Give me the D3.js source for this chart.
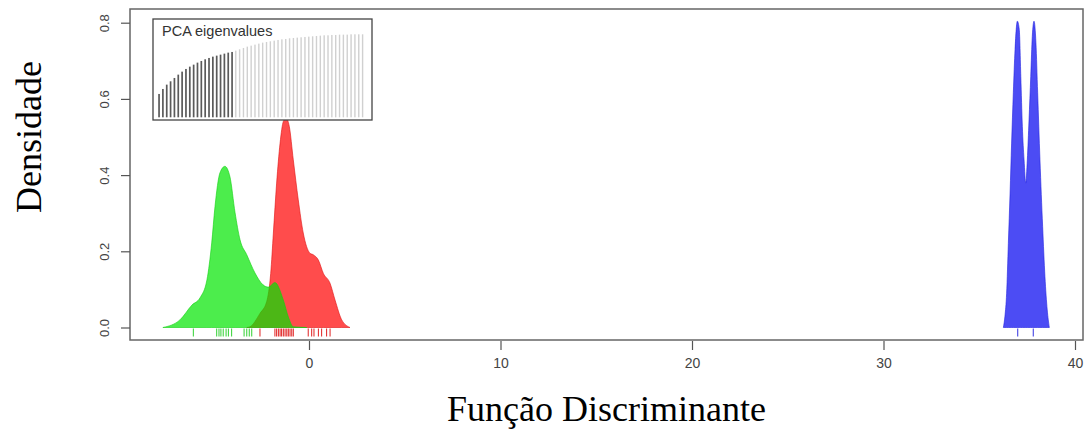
<!DOCTYPE html>
<html>
<head>
<meta charset="utf-8">
<script src="https://cdn.jsdelivr.net/npm/d3@7"></script>
<style>
  body { margin: 0; background: #fff; }
  svg { display: block; }
</style>
</head>
<body>
<svg class="dapc"></svg>
<script>
// density curves: [discriminant value, density]
const redDensity = [
  [-3.25, 0], [-3.08, 0.002], [-2.56, 0.037], [-2.21, 0.068], [-2.0, 0.142],
  [-1.86, 0.248], [-1.69, 0.379], [-1.51, 0.484], [-1.34, 0.541], [-1.2, 0.55],
  [-1.03, 0.528], [-0.82, 0.44], [-0.56, 0.335], [-0.3, 0.248], [0.05, 0.195],
  [0.22, 0.191], [0.49, 0.177], [0.75, 0.142], [1.1, 0.116], [1.36, 0.072],
  [1.71, 0.02], [2.14, 0]
]
const greenDensity = [
  [-7.63, 0], [-6.74, 0.02], [-6.11, 0.059], [-5.69, 0.078], [-5.33, 0.125],
  [-5.08, 0.222], [-4.91, 0.317], [-4.65, 0.406], [-4.39, 0.423], [-4.13, 0.396],
  [-3.86, 0.301], [-3.6, 0.23], [-3.25, 0.191], [-2.82, 0.143], [-2.4, 0.112],
  [-2.12, 0.106], [-1.78, 0.118], [-1.34, 0.072], [-1.08, 0.028], [-0.82, 0.002],
  [-0.12, 0]
]
const blueDensity = [
  [36.26, 0], [36.34, 0.029], [36.43, 0.09], [36.52, 0.221], [36.61, 0.353],
  [36.69, 0.484], [36.78, 0.616], [36.87, 0.73], [36.99, 0.804], [37.09, 0.782],
  [37.17, 0.659], [37.25, 0.528], [37.34, 0.44], [37.43, 0.379], [37.51, 0.44],
  [37.6, 0.545], [37.69, 0.659], [37.77, 0.764], [37.86, 0.804], [37.96, 0.747],
  [38.05, 0.616], [38.17, 0.44], [38.31, 0.265], [38.43, 0.134], [38.55, 0.046],
  [38.66, 0]
]

// individual positions (rug)
const greenRug = [-6.04, -4.82, -4.7, -4.6, -4.48, -4.33, -4.21, -4.04, -3.39, -3.25, -3.12, -2.99]
const redRug = [-2.56, -1.78, -1.69, -1.6, -1.51, -1.43, -1.34, -1.25, -1.16, -1.08, -0.99, -0.9, -0.82,
  -0.04, 0.14, 0.26, 0.49, 0.66, 0.92, 1.1]
const blueRug = [37.01, 37.82]

const xTicks = [0, 10, 20, 30, 40]
const yTicks = [0, 0.2, 0.4, 0.6, 0.8]

// inset: retained (dark) and remaining (light) PCA eigenvalues, cumulative
const eigRetained = [70, 85, 98, 108, 118, 128, 137, 145, 152, 158, 164, 169, 174, 178, 182, 185, 188, 191, 194, 196]
const eigOther = [200, 204, 208, 212, 215, 218, 221, 224, 226, 228, 230, 232, 234, 235, 237, 238, 239, 240,
  241, 242, 243, 244, 245, 246, 246, 247, 247, 248, 248, 248, 249, 249, 249, 249]

const svg = d3.select('svg.dapc').attr('width', 1086).attr('height', 432)

const box = { left: 130, top: 9, right: 1083, bottom: 340 }

const x = d3.scaleLinear().domain([0, 40]).range([309, 1075])
const y = d3.scaleLinear().domain([0, 0.8]).range([327.5, 22.7])

// densities (red first, green drawn over it)
const area = d3.area()
  .x(d => x(d[0]))
  .y0(y(0))
  .y1(d => y(d[1]))
  .curve(d3.curveMonotoneX)

const groups = [
  { data: redDensity, fill: 'rgb(255,0,0)', stroke: '#e01010' },
  { data: greenDensity, fill: 'rgb(0,230,0)', stroke: '#10d010' },
  { data: blueDensity, fill: 'rgb(0,0,240)', stroke: '#2020e0' }
]

svg.selectAll('path.dens')
  .data(groups)
  .enter()
  .append('path')
  .attr('class', 'dens')
  .attr('d', d => area(d.data))
  .style('fill', d => d.fill)
  .style('fill-opacity', 0.7)
  .style('stroke', d => d.stroke)
  .style('stroke-opacity', 0.6)
  .style('stroke-width', 1)

// rugs
const rugs = [
  { vals: greenRug, color: '#30d030' },
  { vals: redRug, color: '#e02020' },
  { vals: blueRug, color: '#3030e0' }
]
rugs.forEach(r => {
  svg.append('g').selectAll('line')
    .data(r.vals)
    .enter()
    .append('line')
    .attr('x1', d => x(d))
    .attr('x2', d => x(d))
    .attr('y1', y(0) + 1)
    .attr('y2', y(0) + 9)
    .style('stroke', r.color)
    .style('stroke-width', 1)
})

// plot box
svg.append('rect')
  .attr('x', box.left)
  .attr('y', box.top)
  .attr('width', box.right - box.left)
  .attr('height', box.bottom - box.top)
  .style('fill', 'none')
  .style('stroke', '#666')
  .style('stroke-width', 1.5)

// y axis
const yAxis = svg.append('g')
  .attr('transform', `translate(${box.left}, 0)`)
  .call(d3.axisLeft(y).tickValues(yTicks).tickSize(9).tickFormat(d3.format('.1f')))
yAxis.select('.domain').remove()
yAxis.selectAll('line').style('stroke', '#555').style('stroke-width', 1.2)
yAxis.selectAll('text')
  .attr('x', null)
  .attr('dy', null)
  .attr('text-anchor', 'middle')
  .attr('transform', 'translate(-21, 0) rotate(-90)')
  .style('font-family', 'Liberation Sans, Arial, sans-serif')
  .style('font-size', '13px')
  .style('fill', '#444')

// x axis
const xAxis = svg.append('g')
  .attr('transform', `translate(0, ${box.bottom + 1})`)
  .call(d3.axisBottom(x).tickValues(xTicks).tickSize(9).tickPadding(8))
xAxis.select('.domain').remove()
xAxis.selectAll('line').style('stroke', '#555').style('stroke-width', 1.2)
xAxis.selectAll('text')
  .style('font-family', 'Liberation Sans, Arial, sans-serif')
  .style('font-size', '14px')
  .style('fill', '#444')

// inset: PCA eigenvalues
const inset = svg.append('g')
inset.append('rect')
  .attr('x', 153).attr('y', 19)
  .attr('width', 219).attr('height', 101)
  .style('fill', '#fff')
  .style('stroke', '#444')
  .style('stroke-width', 1.3)

const eigAll = eigRetained.map(v => ({ v, kept: true }))
  .concat(eigOther.map(v => ({ v, kept: false })))
const ex = d3.scalePoint().domain(d3.range(eigAll.length)).range([159, 362.7])
const ey = d3.scaleLinear().domain([0, 249]).range([117.3, 34.3])

inset.selectAll('rect.eig')
  .data(eigAll)
  .enter()
  .append('rect')
  .attr('class', 'eig')
  .attr('x', (d, i) => ex(i) - 0.8)
  .attr('y', d => ey(d.v))
  .attr('width', d => d.kept ? 1.7 : 1.4)
  .attr('height', d => ey(0) - ey(d.v))
  .style('fill', d => d.kept ? '#5a5a5a' : '#d0d0d0')

inset.append('text')
  .attr('x', 162)
  .attr('y', 36)
  .text('PCA eigenvalues')
  .style('font-family', 'Liberation Sans, Arial, sans-serif')
  .style('font-size', '14.5px')
  .style('fill', '#333')

// axis titles
svg.append('text')
  .attr('x', (box.left + box.right) / 2)
  .attr('y', 421)
  .attr('text-anchor', 'middle')
  .text('Função Discriminante')
  .style('font-family', 'Liberation Serif, Times New Roman, serif')
  .style('font-size', '36px')
  .style('fill', '#000')

svg.append('text')
  .attr('transform', 'translate(41, 137) rotate(-90)')
  .attr('text-anchor', 'middle')
  .text('Densidade')
  .style('font-family', 'Liberation Serif, Times New Roman, serif')
  .style('font-size', '36px')
  .style('fill', '#000')
</script>
</body>
</html>
